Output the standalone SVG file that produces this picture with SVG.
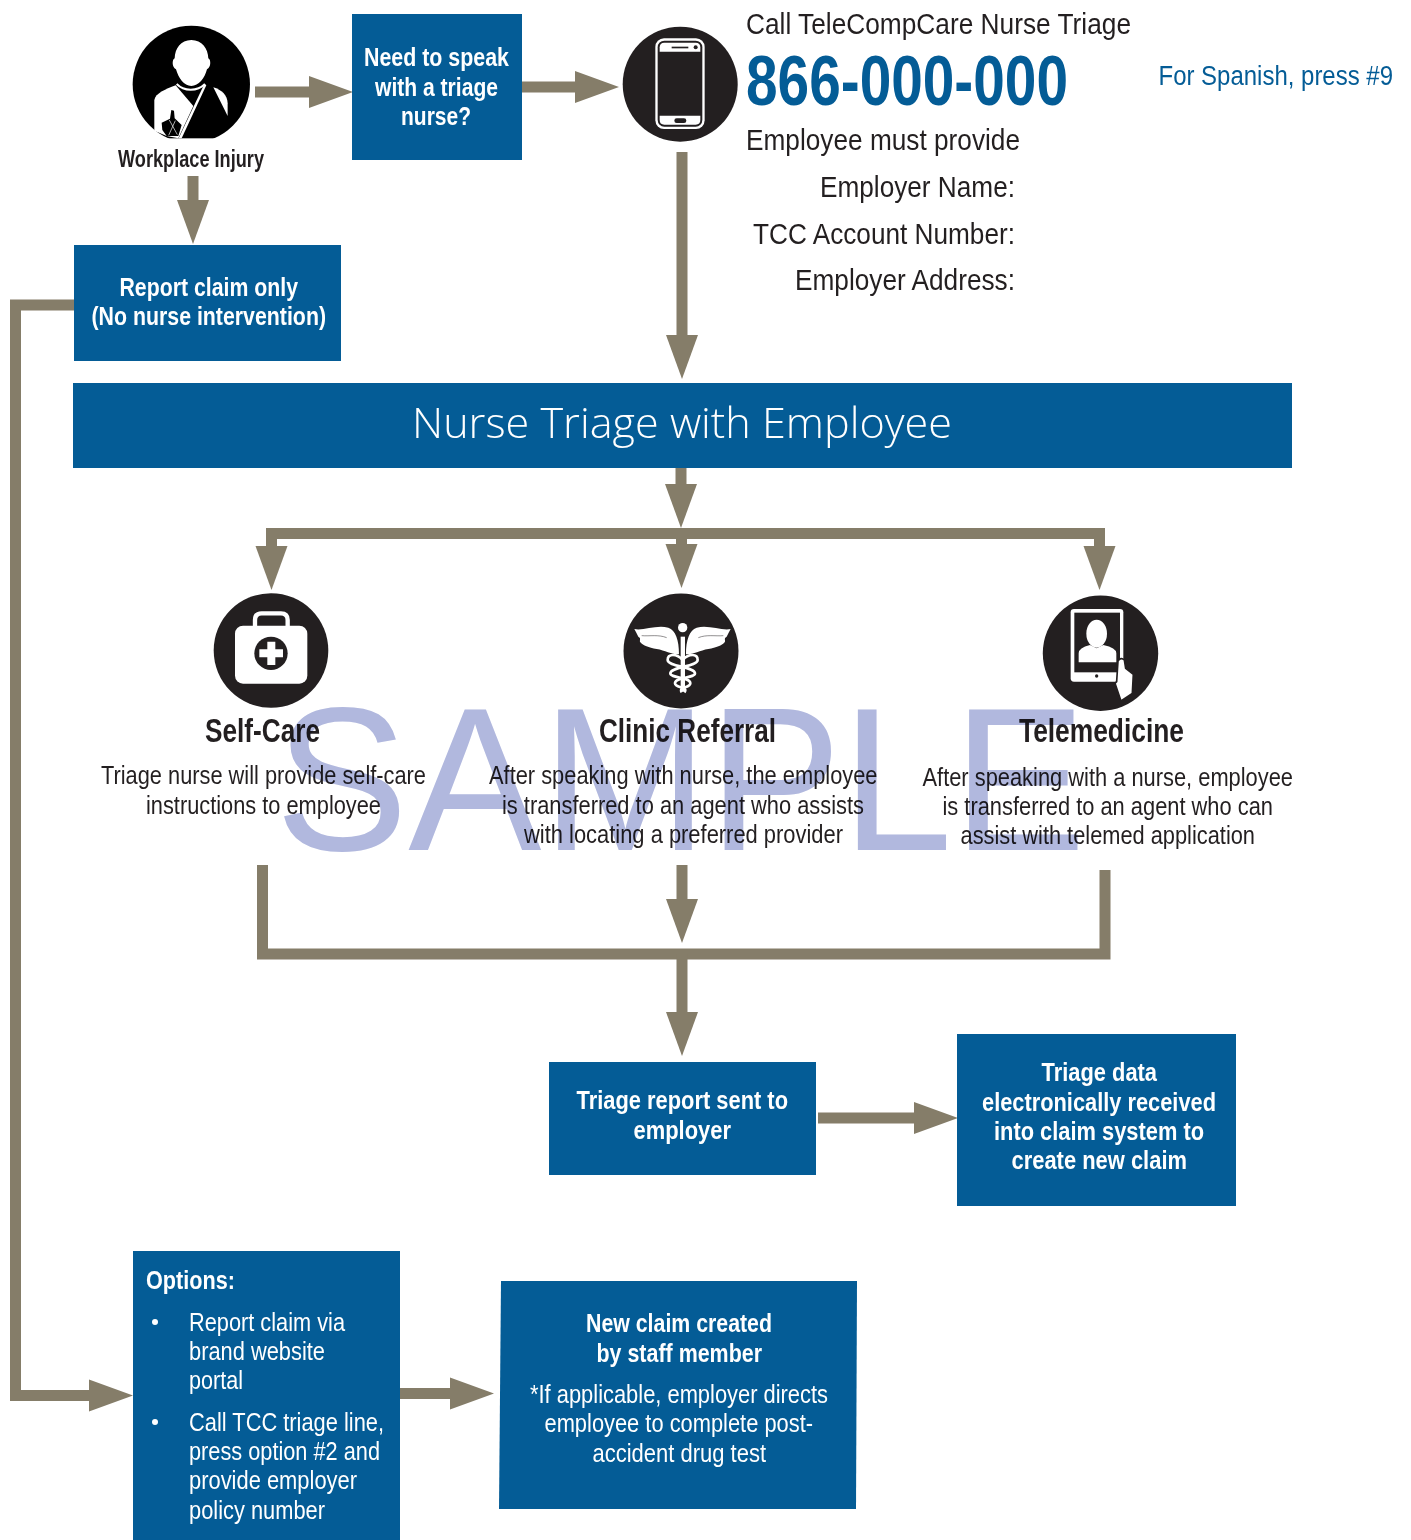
<svg xmlns="http://www.w3.org/2000/svg" width="1411" height="1540" viewBox="0 0 1411 1540">
<style>
text{font-family:"Liberation Sans",Arial,sans-serif;fill:#231f20;font-size:29px}
.b{font-weight:bold}
.bx{fill:#045c96}
.s{font-size:26px}
.sb{font-size:25.5px;font-weight:bold;fill:#fff}
.cn{font-size:26px;fill:#fff}
.h{font-size:34px;font-weight:bold}
.c{fill:none;stroke:#857d69;stroke-width:11}
.a{marker-end:url(#hd)}
.ic{fill:#231f20}
#watermark text{font-size:205px;fill:#b1b8de}
#watermark{mix-blend-mode:multiply}
</style>
<defs>
<marker id="hd" markerUnits="userSpaceOnUse" markerWidth="46" markerHeight="34" refX="1" refY="17" orient="auto" viewBox="0 0 46 34"><path d="M1 1L45 17L1 33Z" fill="#857d69"/></marker>
</defs>
<rect width="1411" height="1540" fill="#fff"/>

<g id="connectors">
<path class="c a" d="M255 92H309"/>
<path class="c a" d="M522 87H575"/>
<path class="c a" d="M193 176V200"/>
<path class="c a" d="M682 152V335"/>
<path class="c a" d="M681 468V484"/>
<path class="c" d="M271.500 546V533.500H1099.500V546"/>
<path class="c a" d="M271.500 540V546"/>
<path class="c a" d="M681.500 539V544"/>
<path class="c a" d="M1099.500 540V546"/>
<path class="c" d="M262.500 865V954H1105V870"/>
<path class="c a" d="M682 865V899"/>
<path class="c a" d="M682 954V1012"/>
<path class="c a" d="M818 1118H914"/>
<path class="c a" d="M74 305H15.500V1395.500H89"/>
<path class="c a" d="M400 1393.500H450"/>
</g>

<g id="workplace-injury">
<g transform="translate(110 10) scale(.3333)">
<circle cx="244" cy="223" r="176" fill="#000"/>
<rect x="60" y="385" width="370" height="70" fill="#fff"/>
<path fill="#fff" d="M244 90C212 90 195 115 194 145C186 148 185 172 198 178C206 205 222 228 244 228C266 228 284 205 291 178C304 172 303 148 295 145C294 115 276 90 244 90Z"/>
<path fill="none" stroke="#fff" stroke-width="6" d="M200 222C222 245 262 245 285 222"/>
<path fill="#fff" d="M133 362V270C137 250 165 238 197 226L250 288L205 385L170 378Z"/>
<path fill="#fff" d="M283 222L289 226L215 385H206Z"/>
<path fill="#fff" d="M310 232C335 240 352 255 353 280V318Z"/>
<path fill="#000" d="M155 338L180 326L184 300L192 302L194 325L215 345L205 378L170 378L157 360Z"/>
<path fill="none" stroke="#fff" stroke-width="2" d="M178 330L202 374M196 332L176 376"/>
</g>
<text class="b" x="118" y="167" style="font-size:23px" textLength="146" lengthAdjust="spacingAndGlyphs">Workplace Injury</text>
</g>

<g id="need-nurse">
<rect class="bx" x="352" y="14" width="170" height="146"/>
<text class="sb" x="364" y="66" textLength="145" lengthAdjust="spacingAndGlyphs">Need to speak</text>
<text class="sb" x="375" y="96" textLength="123" lengthAdjust="spacingAndGlyphs">with a triage</text>
<text class="sb" x="401" y="125" textLength="70" lengthAdjust="spacingAndGlyphs">nurse?</text>
</g>

<g id="phone">
<circle class="ic" cx="680.200" cy="84.200" r="57.500"/>
<g transform="translate(610 10) scale(.3333)">
<rect x="136" y="85" width="148" height="272" rx="26" fill="#fff"/>
<rect x="143" y="92" width="134" height="258" rx="20" fill="#231f20"/>
<path fill="#fff" d="M149 125V112Q149 98 163 98H257Q271 98 271 112V125Z"/>
<path fill="#fff" d="M149 317V330Q149 344 163 344H257Q271 344 271 330V317Z"/>
<rect x="185" y="110" width="50" height="5" fill="#231f20"/>
<circle cx="257" cy="112" r="6" fill="#231f20"/>
<rect x="193" y="325" width="36" height="14" rx="7" fill="#231f20"/>
</g>
</g>

<g id="call-info">
<text x="746" y="34" textLength="385" lengthAdjust="spacingAndGlyphs">Call TeleCompCare Nurse Triage</text>
<text class="b" x="746" y="104.500" style="font-size:71px;fill:#045c96" textLength="322" lengthAdjust="spacingAndGlyphs">866-000-000</text>
<text x="1158.500" y="85" style="font-size:27px;fill:#045c96" textLength="234.500" lengthAdjust="spacingAndGlyphs">For Spanish, press #9</text>
<text x="746" y="150" textLength="274" lengthAdjust="spacingAndGlyphs">Employee must provide</text>
<text x="820" y="197" textLength="195" lengthAdjust="spacingAndGlyphs">Employer Name:</text>
<text x="753" y="244" textLength="262" lengthAdjust="spacingAndGlyphs">TCC Account Number:</text>
<text x="795" y="290" textLength="220" lengthAdjust="spacingAndGlyphs">Employer Address:</text>
</g>

<g id="report-claim">
<rect class="bx" x="74" y="245" width="267" height="116"/>
<text class="sb" x="119.500" y="296" textLength="178.500" lengthAdjust="spacingAndGlyphs">Report claim only</text>
<text class="sb" x="91.500" y="325" textLength="234.500" lengthAdjust="spacingAndGlyphs">(No nurse intervention)</text>
</g>

<g id="nurse-triage">
<rect class="bx" x="73" y="383" width="1219" height="85"/>
<text x="412" y="438" style="font-family:'Open Sans',sans-serif;font-weight:300;font-size:43px;fill:#fff" textLength="540" lengthAdjust="spacingAndGlyphs">Nurse Triage with Employee</text>
</g>

<g id="self-care">
<circle class="ic" cx="271" cy="650.500" r="57.300"/>
<g transform="translate(200 585) scale(.3333)">
<rect x="105" y="122" width="217" height="174" rx="24" fill="#fff"/>
<path fill="none" stroke="#fff" stroke-width="13" d="M165 124V105Q165 85 185 85H243Q263 85 263 105V124"/>
<circle cx="213" cy="205" r="50" fill="#231f20"/>
<path fill="#fff" d="M202 170H226V193H249V217H226V240H202V217H178V193H202Z"/>
</g>
<text class="h" x="205" y="742" textLength="115" lengthAdjust="spacingAndGlyphs">Self-Care</text>
<text class="s" x="101" y="784" textLength="325" lengthAdjust="spacingAndGlyphs">Triage nurse will provide self-care</text>
<text class="s" x="146" y="814" textLength="235" lengthAdjust="spacingAndGlyphs">instructions to employee</text>
</g>

<g id="clinic-referral">
<circle class="ic" cx="681" cy="651" r="57.500"/>
<g transform="translate(615 585) scale(.3333)">
<circle cx="203" cy="128" r="14" fill="#fff"/>
<rect x="197" y="155" width="13" height="165" fill="#fff"/>
<path fill="#fff" d="M58 132C85 138 125 118 160 128C182 136 192 165 192 208C168 208 150 196 125 192C100 188 85 182 76 172C72 166 80 160 70 155C66 147 62 140 58 132Z"/>
<path fill="#fff" d="M347 132C320 138 280 118 245 128C223 136 213 165 213 208C237 208 255 196 280 192C305 188 320 182 329 172C333 166 325 160 335 155C339 147 343 140 347 132Z"/>
<path fill="none" stroke="#231f20" stroke-width="1.500" d="M80 152C105 154 130 148 155 158M325 152C300 154 275 148 250 158"/>
<path fill="none" stroke="#fff" stroke-width="8" d="M203 225C185 205 158 205 158 225C158 245 240 245 240 265C240 280 180 275 180 295C180 310 222 305 208 322"/>
<path fill="none" stroke="#fff" stroke-width="8" d="M203 225C221 205 248 205 248 225C248 245 166 245 166 265C166 280 226 275 226 295C226 310 190 305 200 322"/>
</g>
<text class="h" x="599" y="742" textLength="177" lengthAdjust="spacingAndGlyphs">Clinic Referral</text>
<text class="s" x="489" y="784" textLength="388.500" lengthAdjust="spacingAndGlyphs">After speaking with nurse, the employee</text>
<text class="s" x="502" y="814" textLength="362" lengthAdjust="spacingAndGlyphs">is transferred to an agent who assists</text>
<text class="s" x="524" y="843" textLength="319" lengthAdjust="spacingAndGlyphs">with locating a preferred provider</text>
</g>

<g id="telemedicine">
<circle class="ic" cx="1100.500" cy="653.300" r="57.700"/>
<g transform="translate(1035 585) scale(.3333)">
<rect x="107" y="72" width="158" height="218" rx="10" fill="#fff"/>
<rect x="118" y="83" width="137" height="179" fill="#231f20"/>
<ellipse cx="185" cy="146" rx="31" ry="42" fill="#fff"/>
<path fill="#fff" d="M131 232V205Q131 188 165 180L185 190L205 180Q244 188 244 205V232Z"/>
<circle cx="185" cy="273" r="5" fill="#231f20"/>
<path fill="#fff" stroke="#231f20" stroke-width="5" d="M245 290L249 228Q258 215 268 225L272 250L295 268L292 325L258 348L240 295Z"/>
</g>
<text class="h" x="1019" y="742" textLength="165" lengthAdjust="spacingAndGlyphs">Telemedicine</text>
<text class="s" x="922.500" y="786" textLength="370.500" lengthAdjust="spacingAndGlyphs">After speaking with a nurse, employee</text>
<text class="s" x="942.500" y="815" textLength="330.500" lengthAdjust="spacingAndGlyphs">is transferred to an agent who can</text>
<text class="s" x="960.500" y="844" textLength="294.500" lengthAdjust="spacingAndGlyphs">assist with telemed application</text>
</g>

<g id="triage-report">
<rect class="bx" x="549" y="1062" width="267" height="113"/>
<text class="sb" x="576.500" y="1109" textLength="211.500" lengthAdjust="spacingAndGlyphs">Triage report sent to</text>
<text class="sb" x="633.500" y="1139" textLength="97.500" lengthAdjust="spacingAndGlyphs">employer</text>
</g>

<g id="triage-data">
<rect class="bx" x="957" y="1034" width="279" height="172"/>
<text class="sb" x="1041.500" y="1081" textLength="115.500" lengthAdjust="spacingAndGlyphs">Triage data</text>
<text class="sb" x="982" y="1111" textLength="234" lengthAdjust="spacingAndGlyphs">electronically received</text>
<text class="sb" x="994" y="1140" textLength="210" lengthAdjust="spacingAndGlyphs">into claim system to</text>
<text class="sb" x="1011.500" y="1169" textLength="175.500" lengthAdjust="spacingAndGlyphs">create new claim</text>
</g>

<g id="options">
<rect class="bx" x="133" y="1251" width="267" height="289"/>
<text class="sb" x="146" y="1289" textLength="89" lengthAdjust="spacingAndGlyphs">Options:</text>
<circle cx="155" cy="1322" r="3" fill="#fff"/>
<text class="cn" x="189" y="1331" textLength="156" lengthAdjust="spacingAndGlyphs">Report claim via</text>
<text class="cn" x="189" y="1360" textLength="136" lengthAdjust="spacingAndGlyphs">brand website</text>
<text class="cn" x="189" y="1389" textLength="54" lengthAdjust="spacingAndGlyphs">portal</text>
<circle cx="155" cy="1422" r="3" fill="#fff"/>
<text class="cn" x="189" y="1431" textLength="195" lengthAdjust="spacingAndGlyphs">Call TCC triage line,</text>
<text class="cn" x="189" y="1460" textLength="191" lengthAdjust="spacingAndGlyphs">press option #2 and</text>
<text class="cn" x="189" y="1489" textLength="168" lengthAdjust="spacingAndGlyphs">provide employer</text>
<text class="cn" x="189" y="1519" textLength="136" lengthAdjust="spacingAndGlyphs">policy number</text>
</g>

<g id="new-claim">
<path class="bx" d="M501 1281H857L856 1509H499Z"/>
<text class="sb" x="586" y="1332" textLength="186" lengthAdjust="spacingAndGlyphs">New claim created</text>
<text class="sb" x="596.500" y="1362" textLength="165.500" lengthAdjust="spacingAndGlyphs">by staff member</text>
<text class="cn" x="530" y="1403" textLength="298" lengthAdjust="spacingAndGlyphs">*If applicable, employer directs</text>
<text class="cn" x="544.500" y="1432" textLength="268.500" lengthAdjust="spacingAndGlyphs">employee to complete post-</text>
<text class="cn" x="592.500" y="1462" textLength="173.500" lengthAdjust="spacingAndGlyphs">accident drug test</text>
</g>

<g id="watermark">
<text x="275" y="850" textLength="811" lengthAdjust="spacingAndGlyphs">SAMPLE</text>
</g>
</svg>
